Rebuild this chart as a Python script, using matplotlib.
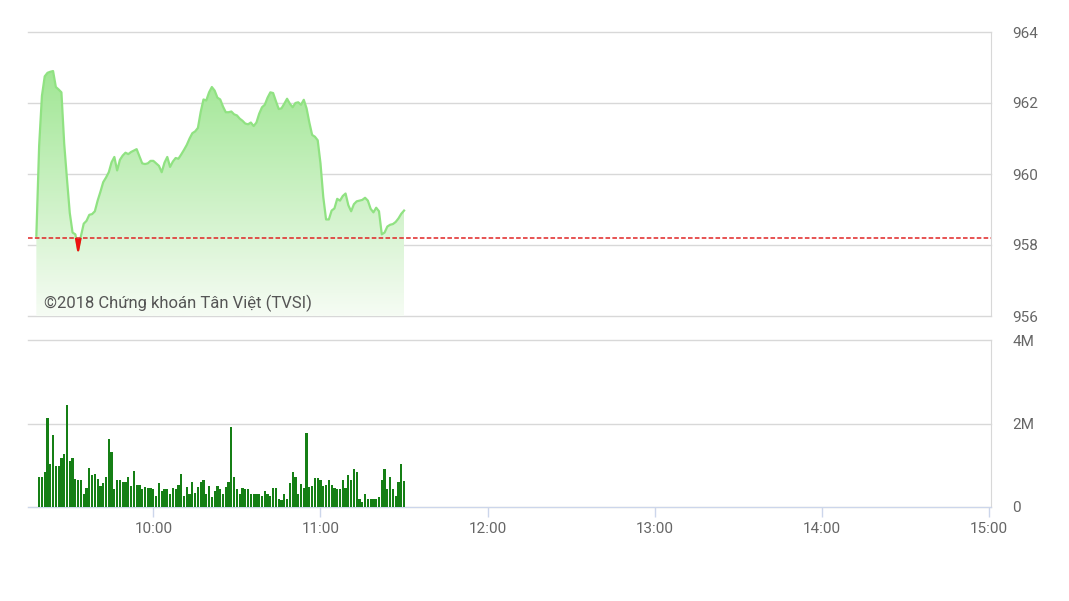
import numpy as np
import matplotlib
matplotlib.use('Agg')
import matplotlib.pyplot as plt
from matplotlib.patches import Rectangle
from matplotlib.colors import LinearSegmentedColormap

plt.rcParams['font.family'] = ['Roboto', 'DejaVu Sans']

# Chỉ số theo từng phút, bắt đầu lúc 9:18
price_start = "09:18"
price = [958.26, 960.8, 962.2, 962.75, 962.85, 962.88, 962.9, 962.45, 962.38, 962.3,
         960.85, 959.85, 958.9, 958.35, 958.3, 957.85, 958.25, 958.6, 958.68, 958.85,
         958.87, 958.95, 959.25, 959.5, 959.77, 959.9, 960.05, 960.33, 960.48, 960.1,
         960.4, 960.52, 960.6, 960.56, 960.62, 960.66, 960.7, 960.5, 960.3, 960.28,
         960.3, 960.37, 960.37, 960.3, 960.23, 960.05, 960.32, 960.48, 960.2, 960.35,
         960.45, 960.43, 960.55, 960.68, 960.82, 961.0, 961.15, 961.2, 961.3, 961.75,
         962.1, 962.07, 962.3, 962.45, 962.35, 962.15, 962.1, 961.9, 961.74, 961.74,
         961.76, 961.68, 961.65, 961.56, 961.5, 961.42, 961.4, 961.45, 961.35, 961.45,
         961.7, 961.88, 961.95, 962.15, 962.3, 962.28, 962.05, 961.83, 961.85, 961.98,
         962.12, 961.98, 961.88, 962.0, 962.02, 961.95, 962.09, 961.85, 961.45, 961.1,
         961.05, 960.95, 960.3, 959.35, 958.72, 958.72, 958.97, 959.03, 959.3, 959.25,
         959.38, 959.45, 959.12, 958.95, 959.15, 959.23, 959.25, 959.27, 959.33, 959.25,
         959.02, 958.92, 959.05, 958.95, 958.3, 958.35, 958.52, 958.57, 958.59, 958.65,
         958.75, 958.88, 958.97]
ref_price = 958.2

# Khối lượng (triệu cp) theo từng phút, bắt đầu lúc 9:19
vol_start = "09:19"
volume = [0.71, 0.71, 0.85, 2.14, 1.03, 1.72, 0.98, 0.98, 1.17, 1.27, 2.44,
          1.10, 1.17, 0.66, 0.65, 0.65, 0.31, 0.45, 0.93, 0.77, 0.78,
          0.66, 0.50, 0.57, 0.71, 1.62, 1.32, 0.43, 0.65, 0.65, 0.61,
          0.59, 0.71, 0.50, 0.86, 0.53, 0.52, 0.43, 0.48, 0.45, 0.45,
          0.43, 0.26, 0.57, 0.39, 0.43, 0.43, 0.31, 0.45, 0.43, 0.53,
          0.79, 0.26, 0.47, 0.31, 0.61, 0.34, 0.47, 0.61, 0.65, 0.31,
          0.50, 0.25, 0.39, 0.50, 0.43, 0.31, 0.47, 0.59, 1.92, 0.71,
          0.43, 0.31, 0.45, 0.42, 0.42, 0.31, 0.31, 0.31, 0.31, 0.26,
          0.38, 0.30, 0.26, 0.45, 0.45, 0.18, 0.17, 0.30, 0.20, 0.58,
          0.84, 0.72, 0.31, 0.55, 0.45, 1.77, 0.47, 0.50, 0.70, 0.70,
          0.64, 0.50, 0.53, 0.65, 0.53, 0.45, 0.43, 0.43, 0.65, 0.45,
          0.77, 0.65, 0.91, 0.85, 0.18, 0.13, 0.31, 0.19, 0.19, 0.19,
          0.19, 0.23, 0.65, 0.91, 0.43, 0.71, 0.43, 0.26, 0.61, 1.03, 0.63]

price_ticks = [956, 958, 960, 962, 964]
vol_ticks = [0, 2, 4]
vol_tick_labels = ['0', '2M', '4M']
time_ticks = ['10:00', '11:00', '12:00', '13:00', '14:00', '15:00']
watermark = '©2018 Chứng khoán Tân Việt (TVSI)'


def to_min(s):
    h, m = s.split(':')
    return int(h) * 60 + int(m) - 9 * 60


price = np.array(price)
px = to_min(price_start) + np.arange(len(price))
vx = to_min(vol_start) + np.arange(len(volume))
xmin, xmax = 15, 360.7

fig = plt.figure(figsize=(10.69, 6.01), dpi=100)
ax = fig.add_axes([28 / 1069, 1 - 316 / 601, 963 / 1069, 284 / 601])
axv = fig.add_axes([28 / 1069, 1 - 507 / 601, 963 / 1069, 167 / 601])

# --- chỉ số ---
poly = ax.fill_between(px, price, 956, color='none', lw=0)
cmap = LinearSegmentedColormap.from_list('g', ['#f6fcf4', '#93e385'])
grad = np.linspace(1, 0, 256).reshape(-1, 1)
im = ax.imshow(grad, extent=[px[0], px[-1], 956, 964], aspect='auto', cmap=cmap,
               origin='upper', zorder=1)
im.set_clip_path(poly.get_paths()[0], transform=ax.transData)

ax.plot(px, price, color='#90e282', lw=1.6, zorder=3, solid_joinstyle='round')
ax.fill_between(px, price, ref_price, where=price < ref_price, interpolate=True,
                color='#ee1111', lw=0, zorder=3)
red_line, = ax.plot(px, price, color='#ee1111', lw=1.6, zorder=4)
red_line.set_clip_path(Rectangle((xmin, 955), xmax - xmin, ref_price - 955,
                                 transform=ax.transData))
ax.axhline(ref_price, color='#e02424', lw=1.1, ls=(0, (3, 1.5)), zorder=5)

ax.text(0.0166, 0.046, watermark, transform=ax.transAxes, fontsize=12,
        color='#555555', va='center', ha='left', zorder=6)

ax.set_xlim(xmin, xmax)
ax.set_ylim(956, 964)
ax.set_xticks([])
ax.yaxis.tick_right()
ax.set_yticks(price_ticks)
ax.set_yticklabels([str(t) for t in price_ticks])
ax.tick_params(axis='y', length=0, pad=15.5, labelsize=11, colors='#666666')
ax.grid(axis='y', color='#d8d8d8', lw=1)
for gl in ax.get_ygridlines():
    gl.set_clip_on(False)
ax.set_axisbelow(True)
for s in ['left', 'top', 'bottom']:
    ax.spines[s].set_visible(False)
ax.spines['right'].set_color('#d8d8d8')

# --- khối lượng ---
axv.bar(vx, volume, width=0.8, color='#157f15', zorder=3)
axv.set_xlim(xmin, xmax)
axv.set_ylim(0, 4)
axv.yaxis.tick_right()
axv.set_yticks(vol_ticks)
axv.set_yticklabels(vol_tick_labels)
axv.tick_params(axis='y', length=0, pad=15.5, labelsize=11, colors='#666666')
axv.grid(axis='y', color='#d8d8d8', lw=1)
for gl in axv.get_ygridlines():
    gl.set_clip_on(False)
axv.set_xticks([to_min(t) for t in time_ticks])
axv.set_xticklabels(time_ticks)
axv.tick_params(axis='x', length=7, width=1, color='#ccd6eb', pad=4,
                labelsize=11, labelcolor='#666666')
for s in ['left', 'top']:
    axv.spines[s].set_visible(False)
axv.spines['bottom'].set_color('#ccd6eb')
axv.spines['right'].set_color('#d8d8d8')

fig.savefig('out.png', dpi=100)
